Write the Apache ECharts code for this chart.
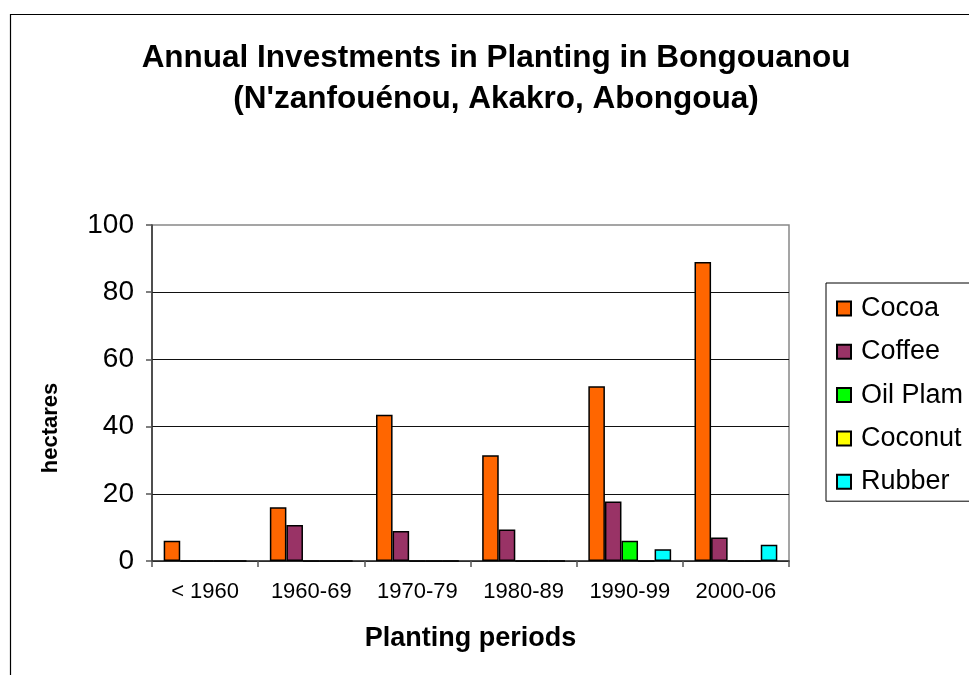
<!DOCTYPE html>
<html>
<head>
    <meta charset="utf-8">
    <script type="text/javascript" src="https://cdn.jsdelivr.net/npm/echarts@6/dist/echarts.min.js"></script>
</head>
<body style="margin: 0; background: #fff">
<div id="container" style="width: 969px; height: 675px"></div>
<script type="text/javascript">
    // planting periods and hectares
    var periods = ['< 1960', '1960-69', '1970-79', '1980-89', '1990-99', '2000-06'];
    var cocoa = [6, 16, 43.5, 31.5, 52, 89];
    var coffee = [0, 10.7, 8.9, 9.4, 17.7, 7];
    var oilPalm = [0, 0, 0, 0, 6, 0];
    var coconut = [0, 0, 0, 0, 0, 0];
    var rubber = [0, 0, 0, 0, 3.5, 4.8];
    var yTicks = [0, 20, 40, 60, 80, 100];

    var seriesNames = ['Cocoa', 'Coffee', 'Oil Plam', 'Coconut', 'Rubber'];
    var seriesData = [cocoa, coffee, oilPalm, coconut, rubber];
    var colors = ['#FF6600', '#993366', '#00FF00', '#FFFF00', '#00FFFF'];
    var font = "'Liberation Sans', Arial, sans-serif";

    var dom = document.getElementById("container");
    var myChart = echarts.init(dom);

    var series = seriesNames.map(function (name, i) {
        return {
            name: name,
            type: 'bar',
            data: seriesData[i],
            barGap: '0%',
            barCategoryGap: '22%',
            itemStyle: {
                color: colors[i],
                borderColor: '#000',
                borderWidth: 1.5
            }
        };
    });

    var option = {
        animation: false,
        color: colors,
        textStyle: {fontFamily: font},
        title: {
            text: 'Annual Investments in Planting in Bongouanou\n(N\'zanfouénou, Akakro, Abongoua)',
            left: 491,
            top: 33,
            textAlign: 'center',
            textStyle: {
                fontFamily: font,
                fontSize: 31.5,
                fontWeight: 'bold',
                lineHeight: 41,
                color: '#000'
            }
        },
        legend: {
            orient: 'vertical',
            left: 826,
            top: 283,
            padding: [12, 12, 6, 10],
            itemGap: 16.3,
            itemWidth: 14,
            itemHeight: 14,
            icon: 'rect',
            borderColor: '#000',
            borderWidth: 1,
            textStyle: {
                fontFamily: font,
                fontSize: 27,
                lineHeight: 26,
                padding: [0, 0, 0, 5],
                color: '#000'
            },
            data: seriesNames
        },
        grid: {
            left: 152,
            right: 180,
            top: 225,
            bottom: 114,
            show: true,
            borderColor: '#888',
            borderWidth: 1.5
        },
        xAxis: {
            type: 'category',
            data: periods,
            name: 'Planting periods',
            nameLocation: 'middle',
            nameGap: 64,
            nameTextStyle: {
                fontFamily: font,
                fontSize: 27,
                fontWeight: 'bold',
                color: '#000'
            },
            axisLine: {lineStyle: {color: '#333', width: 1.5}},
            axisTick: {show: true, length: 6, lineStyle: {color: '#555', width: 1.5}},
            axisLabel: {
                fontFamily: font,
                fontSize: 22,
                color: '#000',
                margin: 20
            }
        },
        yAxis: {
            type: 'value',
            min: yTicks[0],
            max: yTicks[yTicks.length - 1],
            interval: 20,
            name: 'hectares',
            nameLocation: 'middle',
            nameGap: 90,
            nameTextStyle: {
                fontFamily: font,
                fontSize: 22,
                fontWeight: 'bold',
                color: '#000',
                padding: [0, 70, 0, 0]
            },
            axisLine: {show: true, lineStyle: {color: '#333', width: 1.5}},
            axisTick: {show: true, length: 6, lineStyle: {color: '#555', width: 1.5}},
            axisLabel: {
                fontFamily: font,
                fontSize: 28,
                color: '#000',
                margin: 18
            },
            splitLine: {
                show: true,
                showMaxLine: false,
                lineStyle: {color: '#111', width: 1.2}
            }
        },
        graphic: [{
            type: 'rect',
            left: 8,
            top: 12,
            shape: {width: 1000, height: 700},
            style: {fill: 'none', stroke: '#000', lineWidth: 1.2},
            silent: true
        }],
        series: series
    };

    myChart.setOption(option);
</script>
</body>
</html>
